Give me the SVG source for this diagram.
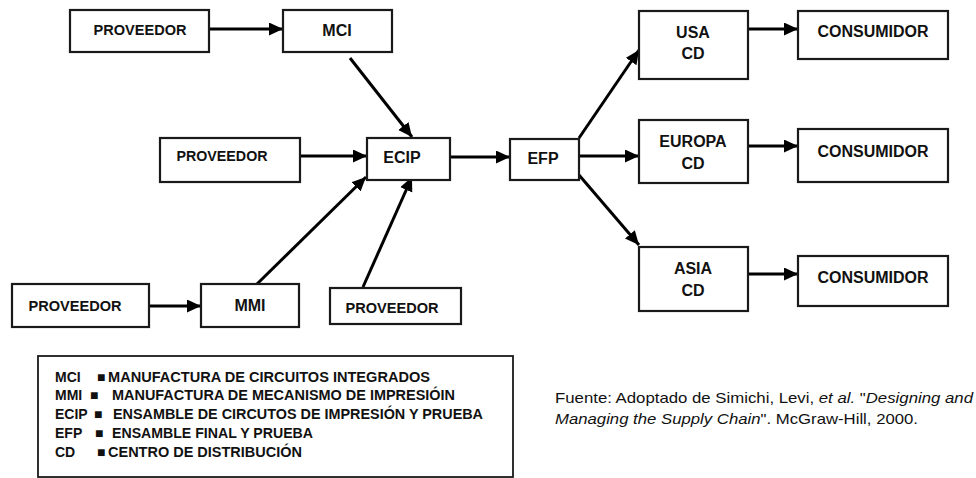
<svg xmlns="http://www.w3.org/2000/svg" width="976" height="478" viewBox="0 0 976 478">
<style>
.box{fill:#fff;stroke:#1a1a1a;stroke-width:2.2}
.lbl{font-family:"Liberation Sans",Arial,sans-serif;font-weight:bold;font-size:16px;fill:#111;text-anchor:middle}
.prov{font-size:14.5px}
.con{stroke:#000;stroke-width:3;fill:none;marker-end:url(#ah)}
.leg{font-family:"Liberation Sans",Arial,sans-serif;font-weight:bold;font-size:14px;fill:#111}
.src{font-family:"Liberation Sans",Arial,sans-serif;font-size:14.5px;fill:#111}
</style>
<defs>
<marker id="ah" markerUnits="userSpaceOnUse" markerWidth="15" markerHeight="14" refX="14" refY="6.5" orient="auto">
<path d="M0,0 L14,6.5 L0,13 z" fill="#000"/>
</marker>
</defs>
<rect width="976" height="478" fill="#fff"/>
<g id="connectors">
<path class="con" d="M206,29 L283,29"/>
<path class="con" d="M350,58 L412,137"/>
<path class="con" d="M296,156 L367,156"/>
<path class="con" d="M450,157 L510,157"/>
<path class="con" d="M147,306 L201,306"/>
<path class="con" d="M257,284 L366,177"/>
<path class="con" d="M363,287 L412,177"/>
<path class="con" d="M579,138 L639,50"/>
<path class="con" d="M579,156 L639,156"/>
<path class="con" d="M579,175 L639,245"/>
<path class="con" d="M745,29 L798,29"/>
<path class="con" d="M745,146 L798,146"/>
<path class="con" d="M745,274 L798,274"/>
</g>
<g id="proveedor1"><rect class="box" x="70" y="10" width="139" height="42"/><text class="lbl prov" x="140" y="35" textLength="93" lengthAdjust="spacingAndGlyphs">PROVEEDOR</text></g>
<g id="mci"><rect class="box" x="283" y="10" width="109" height="42"/><text class="lbl" x="337" y="36">MCI</text></g>
<g id="proveedor2"><rect class="box" x="160" y="138" width="140" height="44"/><text class="lbl prov" x="222" y="161" textLength="91" lengthAdjust="spacingAndGlyphs">PROVEEDOR</text></g>
<g id="ecip"><rect class="box" x="367" y="138" width="83" height="42"/><text class="lbl" x="402" y="163">ECIP</text></g>
<g id="efp"><rect class="box" x="510" y="139" width="69" height="41"/><text class="lbl" x="543" y="164">EFP</text></g>
<g id="usa-cd"><rect class="box" x="639" y="11" width="109" height="68"/><text class="lbl" x="693" y="37.5">USA</text><text class="lbl" x="693" y="59">CD</text></g>
<g id="europa-cd"><rect class="box" x="639" y="120" width="109" height="63"/><text class="lbl" x="693" y="146.5">EUROPA</text><text class="lbl" x="693" y="168.5">CD</text></g>
<g id="asia-cd"><rect class="box" x="639" y="247" width="109" height="64"/><text class="lbl" x="693" y="273.5">ASIA</text><text class="lbl" x="693" y="295.5">CD</text></g>
<g id="consumidor1"><rect class="box" x="798" y="11" width="150" height="48"/><text class="lbl" x="873" y="36.5">CONSUMIDOR</text></g>
<g id="consumidor2"><rect class="box" x="798" y="129" width="150" height="53"/><text class="lbl" x="873" y="156.5">CONSUMIDOR</text></g>
<g id="consumidor3"><rect class="box" x="798" y="256" width="150" height="50"/><text class="lbl" x="873" y="282.5">CONSUMIDOR</text></g>
<g id="proveedor3"><rect class="box" x="12" y="284" width="137" height="43"/><text class="lbl prov" x="75" y="310.5" textLength="93" lengthAdjust="spacingAndGlyphs">PROVEEDOR</text></g>
<g id="mmi"><rect class="box" x="201" y="284" width="98" height="43"/><text class="lbl" x="250" y="310.5">MMI</text></g>
<g id="proveedor4"><rect class="box" x="330" y="288" width="131" height="36"/><text class="lbl prov" x="392" y="312.5" textLength="93" lengthAdjust="spacingAndGlyphs">PROVEEDOR</text></g>
<g id="legend">
<rect x="38" y="356" width="475" height="121" fill="none" stroke="#1a1a1a" stroke-width="1.8"/>
<text class="leg" x="55" y="382">MCI</text>
<text class="leg" x="97" y="382" font-size="9">■</text>
<text class="leg" x="108" y="382" textLength="322" lengthAdjust="spacingAndGlyphs">MANUFACTURA DE CIRCUITOS INTEGRADOS</text>
<text class="leg" x="55" y="400">MMI</text>
<text class="leg" x="90" y="400" font-size="9">■</text>
<text class="leg" x="112" y="400" textLength="343" lengthAdjust="spacingAndGlyphs">MANUFACTURA DE MECANISMO DE IMPRESIÓIN</text>
<text class="leg" x="55" y="419">ECIP</text>
<text class="leg" x="94" y="419" font-size="9">■</text>
<text class="leg" x="113" y="419" textLength="370" lengthAdjust="spacingAndGlyphs">ENSAMBLE DE CIRCUTOS DE IMPRESIÓN Y PRUEBA</text>
<text class="leg" x="55" y="438">EFP</text>
<text class="leg" x="95" y="438" font-size="9">■</text>
<text class="leg" x="112" y="438" textLength="201" lengthAdjust="spacingAndGlyphs">ENSAMBLE FINAL Y PRUEBA</text>
<text class="leg" x="55" y="457">CD</text>
<text class="leg" x="97" y="457" font-size="9">■</text>
<text class="leg" x="108" y="457" textLength="194" lengthAdjust="spacingAndGlyphs">CENTRO DE DISTRIBUCIÓN</text>
</g>
<g id="source">
<text class="src" x="555" y="403" textLength="418" lengthAdjust="spacingAndGlyphs">Fuente: Adoptado de Simichi, Levi, <tspan font-style="italic">et al.</tspan> "<tspan font-style="italic">Designing and</tspan></text>
<text class="src" x="555" y="424" textLength="363" lengthAdjust="spacingAndGlyphs"><tspan font-style="italic">Managing the Supply Chain</tspan>". McGraw-Hill, 2000.</text>
</g>
</svg>
